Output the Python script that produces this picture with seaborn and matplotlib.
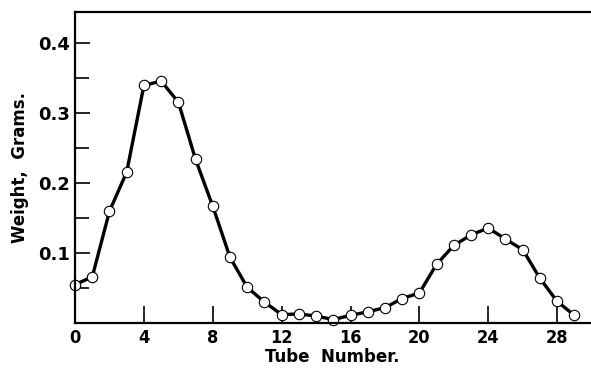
import matplotlib
matplotlib.use("Agg")
import matplotlib.pyplot as plt
import seaborn as sns
import pandas as pd
from matplotlib.ticker import MultipleLocator

# ── data ───────────────────────────────────────────────────
tube = list(range(0, 30))
weight = [0.055, 0.066, 0.160, 0.216, 0.340, 0.346, 0.316, 0.234, 0.167, 0.094,
          0.051, 0.030, 0.012, 0.013, 0.010, 0.005, 0.011, 0.016, 0.022, 0.035,
          0.043, 0.084, 0.111, 0.126, 0.136, 0.120, 0.105, 0.064, 0.031, 0.011]
x_ticks = [0, 4, 8, 12, 16, 20, 24, 28]
y_ticks = [0.1, 0.2, 0.3, 0.4]

df = pd.DataFrame({"tube": tube, "weight": weight})

sns.set_style("white")
plt.rcParams["font.family"] = ["DejaVu Sans"]
plt.rcParams["text.color"] = "black"
plt.rcParams["axes.labelcolor"] = "black"

fig = plt.figure(figsize=(5.91, 3.73), dpi=100)
ax = fig.add_axes([0.127, 0.134, 0.871, 0.834])

sns.lineplot(data=df, x="tube", y="weight", ax=ax, color="black", linewidth=2.4,
             marker="o", markersize=7.5, markerfacecolor="white",
             markeredgecolor="black", markeredgewidth=0.8, clip_on=False)

ax.set_xlim(0, 29.9)
ax.set_ylim(0, 0.445)
ax.set_xticks(x_ticks)
ax.set_yticks(y_ticks)
ax.set_xticklabels([str(t) for t in x_ticks], fontweight="bold", fontstretch="condensed")
ax.set_yticklabels([f"{v:.1f}" for v in y_ticks], fontweight="bold")
ax.yaxis.set_minor_locator(MultipleLocator(0.05))

ax.tick_params(axis="both", which="both", direction="in", color="black",
               width=1.2, labelsize=13, labelcolor="black",
               bottom=True, left=True, top=False, right=False)
ax.tick_params(axis="x", which="major", length=12, pad=4)
ax.tick_params(axis="y", which="major", length=11, pad=4)
ax.tick_params(axis="y", which="minor", length=10, width=1.2)

for side in ["left", "bottom", "top"]:
    ax.spines[side].set_color("black")
    ax.spines[side].set_linewidth(1.6)
ax.spines["right"].set_visible(False)

ax.set_xlabel("Tube  Number.", fontsize=12, fontweight="bold", labelpad=1)
ax.set_ylabel("Weight,  Grams.", fontsize=12, fontweight="bold", labelpad=6)

fig.savefig("out.png", dpi=100)
